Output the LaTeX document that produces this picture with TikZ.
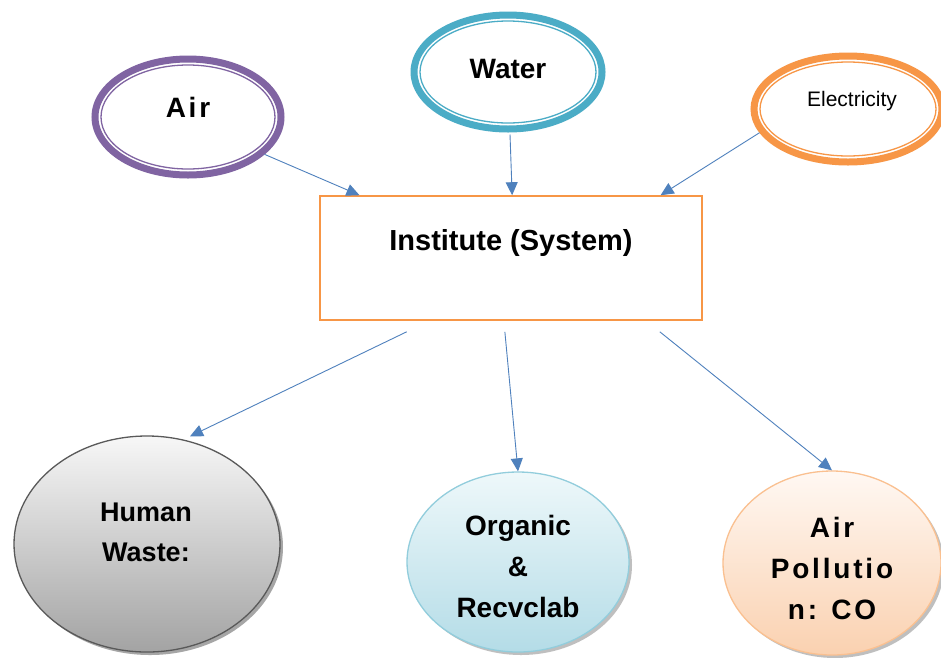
\documentclass[tikz,border=0pt]{standalone}
\usepackage{fontspec}
\setmainfont{Liberation Sans}
\newfontfamily\spacedfont[LetterSpace=10]{Liberation Sans}
\usetikzlibrary{shapes.geometric,arrows.meta,calc}
\definecolor{cpurple}{HTML}{8064A2}
\definecolor{cteal}{HTML}{4BACC6}
\definecolor{corange}{HTML}{F79646}
\definecolor{cblue}{HTML}{4F81BD}
\definecolor{cgraytop}{HTML}{F7F7F7}
\definecolor{cgraybot}{HTML}{A3A3A3}
\definecolor{cgrayline}{HTML}{595959}
\definecolor{cbluetop}{HTML}{EEF8FA}
\definecolor{cbluebot}{HTML}{B4DCE7}
\definecolor{cblueline}{HTML}{92CDDC}
\definecolor{cpeachtop}{HTML}{FFF8F3}
\definecolor{cpeachbot}{HTML}{FAD1B0}
\definecolor{cpeachline}{HTML}{FAC090}
\tikzset{
  outerring/.style={ellipse, draw=#1, line width=7pt, fill=white, inner sep=0pt},
  innerring/.style={ellipse, draw=#1, line width=1.3pt, inner sep=0pt},
  arr/.style={draw=cblue, line width=0.9pt, -{Triangle[length=13pt,width=12pt]}},
  outbub/.style={ellipse, inner sep=0pt, line width=1.3pt},
  shad/.style={ellipse, inner sep=0pt, fill=black!35},
  bigtxt/.style={font=\bfseries\fontsize{28}{41}\selectfont, align=center},
  spctxt/.style={font=\spacedfont\bfseries\fontsize{28}{41}\selectfont, align=center},
}
\begin{document}
\begin{tikzpicture}[x=1pt,y=-1pt]
\clip (0,0) rectangle (941,657);
\fill[white] (0,0) rectangle (941,657);

% top inputs
\node[outerring=cpurple, minimum width=186, minimum height=116] (air) at (188,117) {};
\node[innerring=cpurple, minimum width=174, minimum height=104] (airin) at (188,117) {};
\node[spctxt] (airlbl) at (188,107) {Air};

\node[outerring=cteal, minimum width=188, minimum height=114] (water) at (508,72) {};
\node[innerring=cteal, minimum width=176, minimum height=102] (waterin) at (508,72) {};
\node[bigtxt] (waterlbl) at (508,69) {Water};

\node[outerring=corange, minimum width=188, minimum height=106] (elec) at (848,109) {};
\node[innerring=corange, minimum width=176, minimum height=94] (elecin) at (848,109) {};
\node[font=\fontsize{21}{25}\selectfont] (eleclbl) at (852,101) {Electricity};

% system box
\node[draw=corange, line width=1.6pt, minimum width=382, minimum height=124, inner sep=0pt] (box) at (511,258) {};
\node[font=\bfseries\fontsize{29}{34}\selectfont] (boxlbl) at (511,243) {Institute (System)};

% outputs
\node[shad, minimum width=266, minimum height=216] (hwsh) at (150,547) {};
\node[outbub, draw=cgrayline, top color=cgraytop, bottom color=cgraybot, minimum width=266, minimum height=216] (hw) at (147,544) {};
\node[bigtxt, font=\bfseries\fontsize{27}{40}\selectfont] (hwlbl) at (146,532) {Human\\Waste:};

\node[shad, fill=black!25, minimum width=222, minimum height=180] (orgsh) at (521,565) {};
\node[outbub, draw=cblueline, top color=cbluetop, bottom color=cbluebot, minimum width=222, minimum height=180] (org) at (518,562) {};
\node[bigtxt] (orglbl) at (518,566) {Organic\\\&\\Recvclab};

\node[shad, fill=black!25, minimum width=218, minimum height=184] (apsh) at (835,566) {};
\node[outbub, draw=cpeachline, top color=cpeachtop, bottom color=cpeachbot, minimum width=218, minimum height=184] (ap) at (832,563) {};
\node[spctxt] (aplbl) at (832,568) {Air\\Pollutio\\n: CO};

% input arrows
\draw[arr] (air.-26) -- ($(box.north west)!0.105!(box.north east)$);
\draw[arr] ($(water.south)+(2,2)$) -- ($(box.north west)!0.503!(box.north east)$);
\draw[arr] (elec.-165) -- ($(box.north west)!0.89!(box.north east)$);

% output arrows
\coordinate (o1) at ($(box.south west)!0.228!(box.south east)+(0,11)$);
\coordinate (o2) at ($(box.south west)!0.484!(box.south east)+(0,11)$);
\coordinate (o3) at ($(box.south west)!0.888!(box.south east)+(0,11)$);
\draw[arr] (o1) -- ($(hw.north)+(43,1)$);
\draw[arr] (o2) -- (org.north);
\draw[arr] (o3) -- (ap.north);
\end{tikzpicture}
\end{document}
